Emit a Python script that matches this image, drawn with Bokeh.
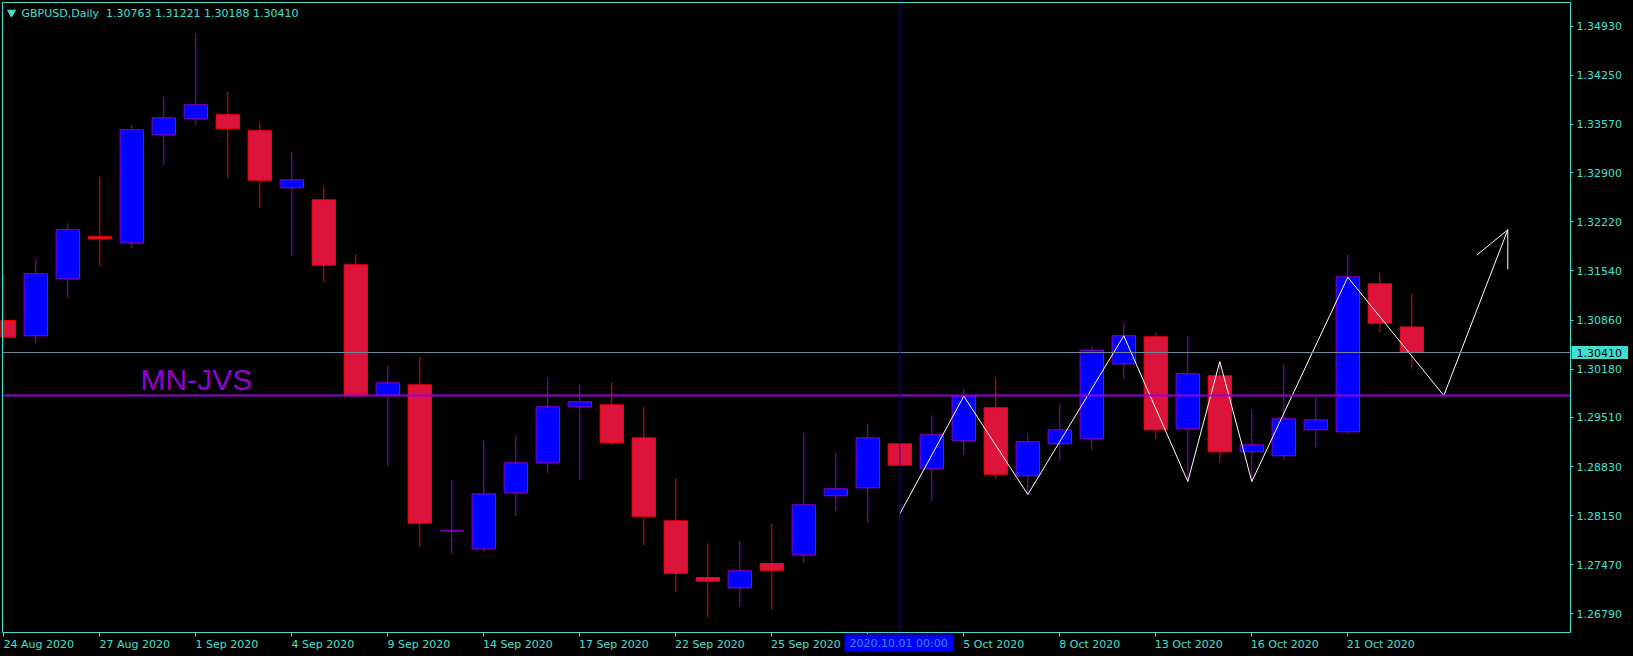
import numpy as np
from bokeh.plotting import figure
from bokeh.models import (LinearAxis, FixedTicker, PrintfTickFormatter, Label,
                          ColumnDataSource, Range1d)
from bokeh.embed import file_html
from bokeh.resources import INLINE

# ---------------- data ----------------
dates = ["24 Aug", "25 Aug", "26 Aug", "27 Aug", "28 Aug", "31 Aug", "1 Sep", "2 Sep", "3 Sep", "4 Sep",
         "7 Sep", "8 Sep", "9 Sep", "10 Sep", "11 Sep", "14 Sep", "15 Sep", "16 Sep", "17 Sep", "18 Sep",
         "21 Sep", "22 Sep", "23 Sep", "24 Sep", "25 Sep", "28 Sep", "29 Sep", "30 Sep", "1 Oct", "2 Oct",
         "5 Oct", "6 Oct", "7 Oct", "8 Oct", "9 Oct", "12 Oct", "13 Oct", "14 Oct", "15 Oct", "16 Oct",
         "19 Oct", "20 Oct", "21 Oct", "22 Oct", "23 Oct"]

opens = [1.30853, 1.30641, 1.31431, 1.32013, 1.31929, 1.33426, 1.33647, 1.33703, 1.33481, 1.32691,
         1.32525, 1.31625, 1.29814, 1.29962, 1.27940, 1.27690, 1.28466, 1.28882, 1.29658, 1.29685,
         1.29228, 1.28078, 1.27293, 1.27150, 1.27487, 1.27607, 1.28425, 1.28535, 1.29145, 1.28799,
         1.29187, 1.29644, 1.28702, 1.29145, 1.29214, 1.30253, 1.30627, 1.29353, 1.30087, 1.29034,
         1.28979, 1.29339, 1.29311, 1.31361, 1.30763]
highs = [1.31490, 1.31712, 1.32197, 1.32848, 1.33568, 1.33956, 1.34829, 1.34025, 1.33596, 1.33194,
         1.32709, 1.31767, 1.30230, 1.30354, 1.28650, 1.29191, 1.29260, 1.30063, 1.29980, 1.29994,
         1.29662, 1.28664, 1.27764, 1.27805, 1.28041, 1.29302, 1.29024, 1.29426, 1.29150, 1.29537,
         1.29911, 1.30059, 1.29288, 1.29703, 1.30493, 1.30825, 1.30687, 1.30645, 1.30275, 1.29620,
         1.30244, 1.29804, 1.31767, 1.31518, 1.31221]
lows = [1.30521, 1.30539, 1.31162, 1.31605, 1.31855, 1.33004, 1.33559, 1.32824, 1.32409, 1.31744,
        1.31384, 1.29791, 1.28835, 1.27713, 1.27616, 1.27643, 1.28142, 1.28738, 1.28641, 1.29126,
        1.27740, 1.27089, 1.26743, 1.26895, 1.26850, 1.27491, 1.28211, 1.28045, 1.28845, 1.28350,
        1.28993, 1.28655, 1.28443, 1.28904, 1.29056, 1.30036, 1.29209, 1.28623, 1.28890, 1.28623,
        1.28918, 1.29098, 1.29288, 1.30687, 1.30188]
closes = [1.30622, 1.31500, 1.32110, 1.31985, 1.33495, 1.33661, 1.33841, 1.33509, 1.32797, 1.32802,
          1.31619, 1.29810, 1.29990, 1.28045, 1.27940, 1.28452, 1.28882, 1.29658, 1.29727, 1.29159,
          1.28142, 1.27352, 1.27242, 1.27386, 1.27394, 1.28300, 1.28522, 1.29228, 1.28849, 1.29270,
          1.29810, 1.28724, 1.29173, 1.29339, 1.30442, 1.30641, 1.29339, 1.30115, 1.29034, 1.29131,
          1.29491, 1.29477, 1.31458, 1.30816, 1.30410]

y_ticks = [1.34930, 1.34250, 1.33570, 1.32900, 1.32220, 1.31540, 1.30860,
           1.30180, 1.29510, 1.28830, 1.28150, 1.27470, 1.26790]

# zigzag drawing (bar index, price)
zz_x = [28, 30, 32, 35, 37, 38, 39, 42, 45, 47]
zz_y = [1.28175, 1.29805, 1.28443, 1.30641, 1.28623, 1.30285, 1.28623, 1.31453, 1.29814, 1.32110]
arrow_x = [46.04, 47, 47]
arrow_y = [1.31763, 1.32110, 1.31560]

current_price = 1.30410
level_price = 1.29815
cursor_bar = 28
cursor_text = "2020.10.01 00:00"
symbol_text = "GBPUSD,Daily"
level_text = "MN-JVS"

# ---------------- geometry (screen px <-> data) ----------------
W_PX, H_PX = 1633, 656
PX_PER_BAR, BAR0_PX = 32.0, 3.3
PX_PER_PRICE, PRICE_AT_TOP = 7219.0, 1.352860


def px_x(px):
    return (px - BAR0_PX) / PX_PER_BAR


def px_y(py):
    return PRICE_AT_TOP - py / PX_PER_PRICE


X0, X1 = px_x(0), px_x(W_PX)          # whole canvas is the frame
Y0, Y1 = px_y(H_PX), px_y(0)
CX0, CX1 = px_x(2), px_x(1570)         # chart box
CY0, CY1 = px_y(632), px_y(2)

# ---------------- style ----------------
TURQ = "#40e0d0"
VIOLET = "#9400d3"
BULL_FILL = "#0000ff"
BEAR_FILL = "#dc143c"
BEAR_LINE = "#ff0000"
FONT = "DejaVu Sans"

p = figure(width=W_PX, height=H_PX, x_range=Range1d(X0, X1), y_range=Range1d(Y0, Y1),
           output_backend="svg", toolbar_location=None,
           x_axis_location=None, y_axis_location=None,
           background_fill_color="black", border_fill_color="black",
           outline_line_color=None,
           min_border_left=0, min_border_top=0, min_border_right=0, min_border_bottom=0)
for g in p.grid:
    g.visible = False

# right price axis
yaxis = LinearAxis(fixed_location=CX1, bounds=(CY0, CY1),
                   ticker=FixedTicker(ticks=y_ticks), formatter=PrintfTickFormatter(format="%.5f"),
                   axis_line_color=TURQ, major_tick_line_color=TURQ, major_tick_out=3, major_tick_in=0,
                   minor_tick_line_color=None, major_label_text_color=TURQ,
                   major_label_text_font=FONT, major_label_text_font_size="11px",
                   major_label_standoff=3)
p.add_layout(yaxis, "right")

# left / top edges of the chart box
left_edge = LinearAxis(fixed_location=CX0, bounds=(CY0, CY1), ticker=FixedTicker(ticks=[]),
                       axis_line_color=TURQ, major_tick_line_color=None, minor_tick_line_color=None,
                       major_label_text_font_size="0px")
p.add_layout(left_edge, "left")
top_edge = LinearAxis(fixed_location=CY1, bounds=(CX0, CX1), ticker=FixedTicker(ticks=[]),
                      axis_line_color=TURQ, major_tick_line_color=None, minor_tick_line_color=None,
                      major_label_text_font_size="0px")
p.add_layout(top_edge, "above")

# bottom time axis: tick marks
idx = np.arange(len(dates))
tick_idx = [int(i) for i in idx[::3]]
tick_axis = LinearAxis(fixed_location=CY0, bounds=(CX0, CX1), ticker=FixedTicker(ticks=tick_idx),
                       major_label_overrides={i: "" for i in tick_idx},
                       major_label_text_font_size="0px", major_label_standoff=0,
                       axis_line_color=TURQ, major_tick_line_color=TURQ,
                       major_tick_out=4, major_tick_in=0, minor_tick_line_color=None)
p.add_layout(tick_axis, "below")

# bottom time axis: labels, left-aligned at their tick
CHAR_W = {"0": .636, "1": .636, "2": .636, "3": .636, "4": .636, "5": .636, "6": .636, "7": .636,
          "8": .636, "9": .636, " ": .318, "A": .684, "u": .634, "g": .635, "S": .635, "e": .615,
          "p": .635, "O": .787, "c": .550, "t": .392}
lab_pos, overrides = [], {}
for i in tick_idx:
    txt = dates[i] + " 2020"
    w = sum(CHAR_W.get(ch, .6) for ch in txt) * 11
    pos = round(i * PX_PER_BAR - 0.5 + w / 2) / PX_PER_BAR
    lab_pos.append(pos)
    overrides[pos] = txt
lab_axis = LinearAxis(fixed_location=CY0, bounds=(CX0, CX1), ticker=FixedTicker(ticks=lab_pos),
                      major_label_overrides=overrides,
                      axis_line_color=None, major_tick_line_color=None, major_tick_out=0,
                      major_tick_in=0, minor_tick_line_color=None, major_label_standoff=5,
                      major_label_text_color=TURQ, major_label_text_font=FONT,
                      major_label_text_font_size="11px")
p.add_layout(lab_axis, "below")

# candles
o = np.array(opens); h = np.array(highs); l = np.array(lows); c = np.array(closes)
bull = c >= o
bear = ~bull
src_bull = ColumnDataSource(dict(x=idx[bull], top=c[bull], bottom=o[bull], hi=h[bull], lo=l[bull]))
src_bear = ColumnDataSource(dict(x=idx[bear], top=o[bear], bottom=c[bear], hi=h[bear], lo=l[bear]))
p.segment(x0="x", y0="lo", x1="x", y1="hi", line_color=VIOLET, line_width=1, source=src_bull)
p.segment(x0="x", y0="lo", x1="x", y1="hi", line_color=BEAR_LINE, line_width=1, source=src_bear)
p.vbar(x="x", width=0.73, top="top", bottom="bottom", fill_color=BULL_FILL, line_color=VIOLET,
       line_width=1, source=src_bull)
p.vbar(x="x", width=0.73, top="top", bottom="bottom", fill_color=BEAR_FILL, line_color=BEAR_LINE,
       line_width=1, source=src_bear)

# zigzag + arrow
p.line(zz_x, zz_y, line_color="white", line_width=1)
p.line(arrow_x, arrow_y, line_color="white", line_width=1)

# horizontal lines and cursor, limited to the chart box
p.segment(x0=[CX0], y0=[current_price], x1=[CX1], y1=[current_price], line_color="#778899", line_width=1)
p.segment(x0=[CX0], y0=[level_price], x1=[CX1], y1=[level_price], line_color=VIOLET, line_width=2)
p.segment(x0=[cursor_bar], y0=[CY0], x1=[cursor_bar], y1=[CY1], line_color="#0000dd", line_width=1)

# level text
p.add_layout(Label(x=px_x(140), y=px_y(379), text=level_text, text_font="Liberation Sans",
                   text_font_size="30px", text_color=VIOLET, text_baseline="middle"))

# header
p.scatter([px_x(11)], [px_y(12)], marker="inverted_triangle", size=8, fill_color=TURQ, line_color=TURQ)
header = f"{symbol_text}\u00a0 {opens[-1]:.5f} {highs[-1]:.5f} {lows[-1]:.5f} {closes[-1]:.5f}"
p.add_layout(Label(x=px_x(21), y=px_y(12.5), text=header, text_font=FONT, text_font_size="11px",
                   text_color=TURQ, text_baseline="middle"))

# current price tag on the price axis
p.add_layout(Label(x=px_x(1571), y=current_price, text=f"{current_price:.5f}",
                   text_font=FONT, text_font_size="11px", text_color="black",
                   text_baseline="middle", background_fill_color=TURQ,
                   padding=dict(left=5, right=6, top=3, bottom=2), level="overlay"))

# cursor date tag on the time axis
p.add_layout(Label(x=px_x(844), y=px_y(642.5), text=cursor_text, text_font=FONT,
                   text_font_size="11px", text_color="#3c8ce0", text_baseline="middle",
                   background_fill_color="#0000ff",
                   padding=dict(left=5, right=6, top=2, bottom=2), level="overlay"))

html = file_html(p, INLINE)
html = html.replace("</head>", "<style>html, body { background: #000; }</style></head>", 1)
open("out.html", "w").write(html)
